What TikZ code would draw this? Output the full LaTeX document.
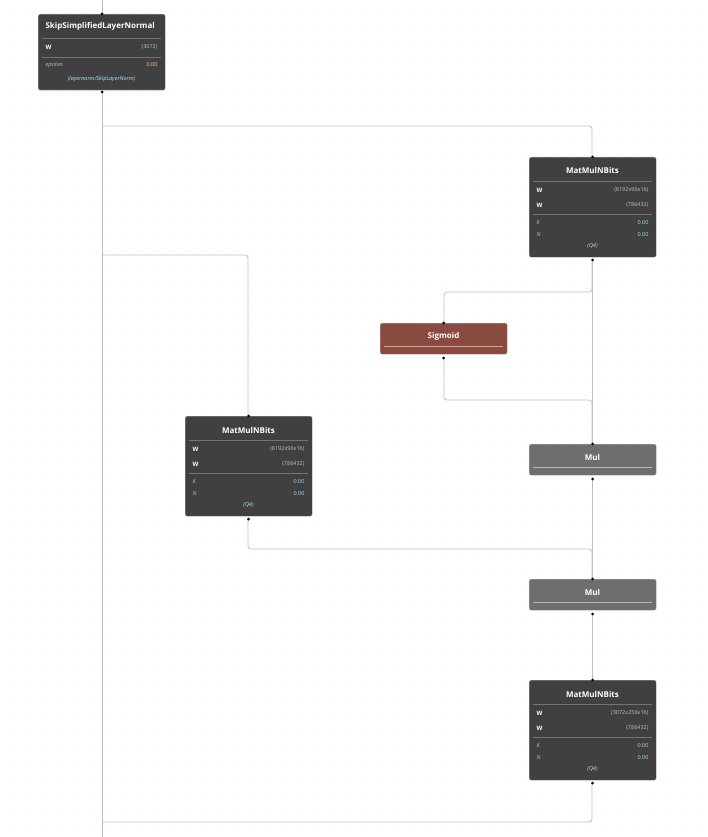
\documentclass[tikz,border=0pt]{standalone}
\usepackage{fontspec}
\setmainfont{Open Sans}
\begin{document}
\begin{tikzpicture}[x=1pt,y=-1pt,
  box/.style={draw=black!30,line width=0.4pt,rounded corners=2pt,anchor=north west,inner sep=0,minimum width=127pt},
  dark/.style={box,fill=black!75,minimum height=100pt},
  ttl/.style={text=white,font=\bfseries\fontsize{8}{9}\selectfont},
  lbl/.style={text=white,font=\bfseries\fontsize{6}{7}\selectfont,anchor=west},
  val/.style={text=black!25,font=\fontsize{5.5}{6}\selectfont,anchor=east},
  ital/.style={text=black!25,font=\itshape\fontsize{5.5}{6}\selectfont,anchor=west},
  num/.style={text=cyan!40,font=\fontsize{5.5}{6}\selectfont,anchor=east},
  sep/.style={draw=black!55,line width=0.4pt},
  wire/.style={draw=black!25,line width=0.8pt,rounded corners=3pt},
  port/.style={circle,fill=black,inner sep=0,minimum size=3pt}]
\fill[white] (0,0) rectangle (707,837);
\useasboundingbox (0,0) rectangle (707,837);
\foreach \i in {0,...,43} \foreach \j in {0,...,51} \fill[black!35] (10+16*\i,11+16*\j) circle (0.45pt);
% wires
\coordinate (tin) at (102,0);
\coordinate (bot) at (102,837);
\coordinate (j3) at (102,822);
\draw[wire] (tin) -- (102,14);
\draw[wire] (102,92) -- (bot);
\draw[wire] (102,126) -- (592,126) -- (592,157);
\draw[wire] (102,255) -- (248,255) -- (248,416);
\draw[wire] (592,261) -- (592,292) -- (444,292) -- (444,323);
\draw[wire] (592,261) -- (592,444);
\draw[wire] (444,358) -- (444,400) -- (592,400) -- (592,444);
\draw[wire] (248,520) -- (248,549) -- (592,549) -- (592,579);
\draw[wire] (592,478) -- (592,579);
\draw[wire] (592,613) -- (592,680);
\draw[wire] (592,783) -- (592,822) -- (j3);
% SSLN
\node[box,fill=black!75,minimum height=76pt] (s) at (38,14) {};
\node[ttl,anchor=west] at (42,26) {SkipSimplifiedLayerNormal};
\draw[sep] (42,38) -- (161,38);
\node[lbl] at (42,47) {W}; \node[val] at (161,47) {(3072)};
\draw[sep] (42,57) -- (161,57);
\node[ital] at (42,65) {epsilon}; \node[num,text=orange!40] at (161,65) {0.00};
\node[text=cyan!30,font=\itshape\fontsize{5.5}{6}\selectfont] at (101.5,79) {(layernorm/SkipLayerNorm)};
\node[port] at (102,14) {}; \node[port] at (102,92) {};
% matmul macro
\newcommand{\mmbox}[5]{%
\node[dark] (#1) at (#2,#3) {};
\node[ttl] at (#2+63.5,#3+14) {MatMulNBits};
\draw[sep] (#2+4,#3+24) -- (#2+123,#3+24);
\node[lbl] at (#2+4,#3+33) {W}; \node[val] at (#2+123,#3+33) {#4};
\node[lbl] at (#2+4,#3+48) {W}; \node[val] at (#2+123,#3+48) {#5};
\draw[sep] (#2+4,#3+57) -- (#2+123,#3+57);
\node[ital] at (#2+4,#3+66) {K}; \node[num] at (#2+123,#3+66) {0.00};
\node[ital] at (#2+4,#3+78) {N}; \node[num] at (#2+123,#3+78) {0.00};
\node[text=cyan!30,font=\itshape\fontsize{5.5}{6}\selectfont] at (#2+63.5,#3+89) {(Q4)};
\node[port] at (#2+63.5,#3) {}; \node[port] at (#2+63.5,#3+103) {};}
\mmbox{m1}{529}{157}{(8192x96x16)}{(786432)}
\mmbox{m2}{185}{416}{(8192x96x16)}{(786432)}
\mmbox{m3}{529}{680}{(3072x256x16)}{(786432)}
% small boxes
\newcommand{\smallbox}[5]{%
\node[box,fill=#4,minimum height=31pt] (#1) at (#2,#3) {};
\node[ttl] at (#2+63.5,#3+13) {#5};
\draw[draw=white!50!#4,line width=0.6pt] (#2+4,#3+23) -- (#2+123,#3+23);
\node[port] at (#2+63.5,#3) {}; \node[port] at (#2+63.5,#3+35) {};}
\definecolor{sigc}{HTML}{8A4A40}
\definecolor{mulc}{HTML}{6E6E6E}
\smallbox{sg}{380}{323}{sigc}{Sigmoid}
\smallbox{mu1}{529}{444}{mulc}{Mul}
\smallbox{mu2}{529}{579}{mulc}{Mul}
\end{tikzpicture}
\end{document}
